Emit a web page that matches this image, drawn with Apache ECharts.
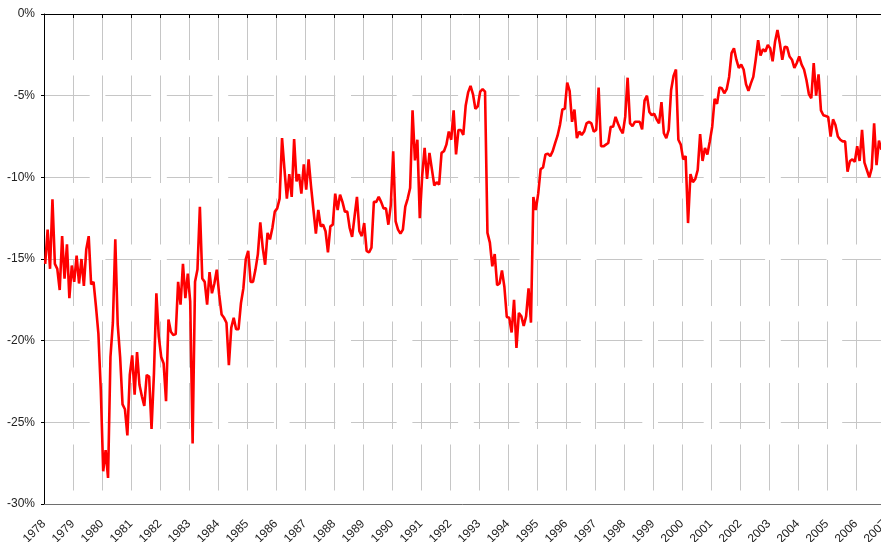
<!DOCTYPE html>
<html>
<head>
<meta charset="utf-8">
<script src="https://cdn.jsdelivr.net/npm/echarts@6/dist/echarts.min.js"></script>
<style>
    html, body { margin: 0; padding: 0; background: #fff; }
    #chart { width: 881px; height: 542px; }
</style>
</head>
<body>
<div id="chart"></div>
<script>
/*数据：月度序列，单位 %*/
var startYear = 1978;
var endYear = 2007;
var yearLabels = ['1978','1979','1980','1981','1982','1983','1984','1985','1986','1987',
    '1988','1989','1990','1991','1992','1993','1994','1995','1996','1997',
    '1998','1999','2000','2001','2002','2003','2004','2005','2006','2007'];

var values1978to1987 = [
    -15.3, -13.2, -15.6, -11.35, -15.3, -15.6, -16.9, -13.6, -16.2, -14.1, -17.4, -15.4,
    -16.4, -14.8, -16.5, -15.0, -16.65, -14.4, -13.6, -16.55, -16.4, -17.9, -19.55, -23.0,
    -28.0, -26.7, -28.4, -21.0, -18.9, -13.8, -19.0, -21.0, -23.9, -24.2, -25.8, -22.1,
    -20.9, -23.3, -20.7, -22.7, -23.4, -24.0, -22.1, -22.2, -25.4, -22.0, -17.1, -19.75,
    -21.0, -21.4, -23.7, -18.7, -19.45, -19.65, -19.6, -16.4, -17.8, -15.3, -17.4, -15.9,
    -17.6, -26.3, -16.4, -15.65, -11.8, -16.2, -16.4, -17.8, -15.8, -17.1, -16.5, -15.65,
    -17.2, -18.4, -18.6, -18.9, -21.5, -19.2, -18.6, -19.3, -19.3, -17.7, -16.8, -15.0,
    -14.5, -16.4, -16.4, -15.65, -14.7, -12.75, -14.3, -15.35, -13.4, -13.8, -13.1, -12.1,
    -11.9, -11.3, -7.6, -9.5, -11.3, -9.8, -11.2, -7.65, -10.25, -9.8, -11.0, -9.2,
    -10.75, -8.9, -10.55, -12.0, -13.45, -12.0, -13.0, -12.9, -13.3, -14.6, -13.0, -12.9
];
var values1988to1997 = [
    -11.0, -12.0, -11.06, -11.5, -12.1, -12.1, -13.1, -13.65, -12.4, -11.2, -13.3, -13.6,
    -12.8, -14.5, -14.6, -14.3, -11.5, -11.5, -11.2, -11.5, -11.9, -11.9, -12.9, -11.7,
    -8.4, -12.7, -13.2, -13.45, -13.2, -11.8, -11.3, -10.65, -5.9, -8.96, -7.7, -12.5,
    -9.9, -8.2, -10.1, -8.5, -9.5, -10.5, -10.3, -10.45, -8.5, -8.4, -8.0, -7.2,
    -7.7, -5.9, -8.6, -7.1, -7.1, -7.4, -5.6, -4.8, -4.4, -4.9, -5.8, -5.65,
    -4.75, -4.6, -4.75, -13.4, -14.0, -15.45, -14.7, -16.6, -16.5, -15.7, -16.7, -18.55,
    -18.6, -19.5, -17.5, -20.45, -18.3, -18.5, -19.1, -18.5, -16.8, -18.9, -11.2, -12.0,
    -11.0, -9.5, -9.4, -8.6, -8.55, -8.7, -8.4, -7.9, -7.45, -6.8, -5.85, -5.8,
    -4.2, -4.7, -6.6, -5.85, -7.6, -7.2, -7.4, -7.2, -6.7, -6.6, -6.7, -7.2,
    -7.1, -4.5, -8.1, -8.1, -8.0, -7.9, -6.9, -6.9, -6.3, -6.7, -7.06, -7.3
];
var values1998to2006 = [
    -6.3, -3.9, -6.7, -6.86, -6.6, -6.6, -6.6, -7.06, -5.3, -5.0, -6.0, -6.2,
    -6.1, -6.45, -6.7, -5.4, -7.3, -7.6, -7.1, -4.65, -3.8, -3.4, -7.7, -8.0,
    -8.9, -8.7, -12.8, -9.8, -10.3, -10.1, -9.55, -7.35, -9.0, -8.2, -8.6, -7.8,
    -6.9, -5.2, -5.5, -4.5, -4.55, -4.85, -4.6, -3.85, -2.4, -2.1, -2.8, -3.3,
    -3.1, -3.4, -4.3, -4.7, -4.25, -3.85, -2.8, -1.6, -2.55, -2.15, -2.3, -1.9,
    -2.1, -2.9, -1.7, -0.98, -1.8, -2.8, -2.0, -2.04, -2.6, -2.8, -3.3, -3.0,
    -2.6, -3.1, -3.4, -4.04, -4.9, -5.16, -3.0, -5.0, -3.7, -5.9, -6.2, -6.25,
    -6.3, -7.5, -6.45, -6.8, -7.5, -7.7, -7.8, -7.8, -9.65, -9.0, -8.9, -9.05,
    -8.1, -9.0, -7.1, -9.1, -9.55, -10.0, -9.45, -6.7, -9.25, -7.75, -8.3
];

var values = values1978to1987.concat(values1988to1997, values1998to2006);
/*每个点放在当月中间*/
var seriesData = values.map(function (v, i) {
    return [startYear + (i + 0.5) / 12, v];
});

var gridColor = '#c6c6c6';
var labelFont = {
    fontFamily: 'Liberation Sans, Arial, Helvetica, sans-serif',
    fontSize: 12,
    color: '#222'
};

var mychart = echarts.init(document.getElementById('chart'));
mychart.setOption({
    animation: false,
    grid: {
        left: 44,
        top: 14,
        width: 841,
        height: 490,
        containLabel: false,
        outerBoundsMode: 'none'
    },
    xAxis: [
        {
            type: 'value',
            position: 'bottom',
            min: startYear,
            max: endYear,
            interval: 1,
            axisLine: { onZero: false, lineStyle: { color: '#6e6e6e', width: 1 } },
            axisTick: { show: false },
            axisLabel: {
                rotate: 45,
                margin: 18,
                fontFamily: labelFont.fontFamily,
                fontSize: labelFont.fontSize,
                color: labelFont.color,
                formatter: function (v) {
                    return yearLabels[Math.round(v - startYear)] || '';
                }
            },
            splitLine: {
                show: true,
                lineStyle: { color: gridColor, width: 1, type: [46, 15.5], dashOffset: 0 }
            }
        },
        {
            type: 'value',
            position: 'top',
            min: startYear,
            max: endYear,
            interval: 1,
            axisLine: { onZero: false, lineStyle: { color: '#000', width: 1 } },
            axisTick: { show: true, inside: true, length: 4, lineStyle: { color: '#000' } },
            axisLabel: { show: false },
            splitLine: { show: false }
        }
    ],
    yAxis: {
        type: 'value',
        min: -30,
        max: 0,
        interval: 5,
        axisLine: { show: true, onZero: false, lineStyle: { color: '#000', width: 1 } },
        axisTick: { show: true, length: 3, lineStyle: { color: '#000' } },
        axisLabel: {
            margin: 9,
            fontFamily: labelFont.fontFamily,
            fontSize: labelFont.fontSize,
            color: labelFont.color,
            formatter: '{value}%'
        },
        splitLine: {
            show: true,
            lineStyle: { color: gridColor, width: 1, type: [45.7, 15.7], dashOffset: 0 }
        }
    },
    series: [
        {
            type: 'line',
            xAxisIndex: 0,
            data: seriesData,
            showSymbol: false,
            symbol: 'none',
            lineStyle: { color: '#ff0000', width: 2.6 },
            itemStyle: { color: '#ff0000' },
            z: 5
        }
    ]
});
</script>
</body>
</html>
